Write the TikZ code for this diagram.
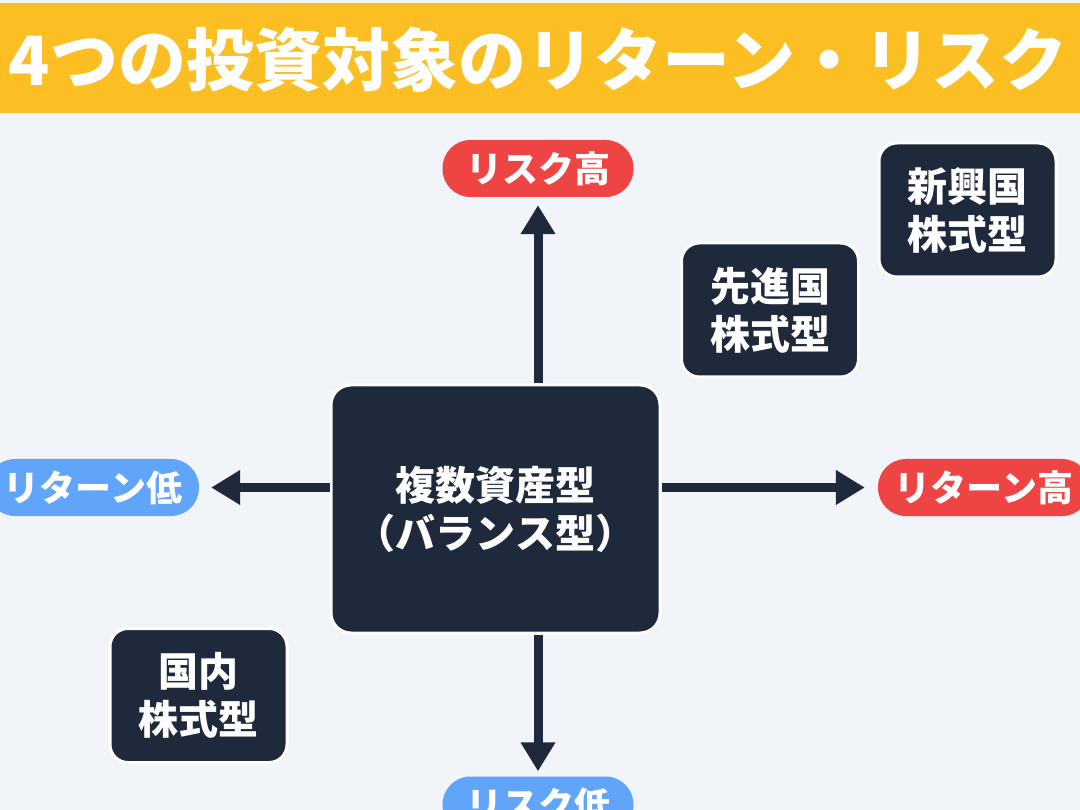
\documentclass[tikz,border=0pt]{standalone}
\usepackage{fontspec}
\setmainfont{Noto Sans CJK JP}
\usetikzlibrary{arrows.meta}
\definecolor{bgc}{HTML}{F1F4F9}
\definecolor{titlec}{HTML}{FBBF24}
\definecolor{darkc}{HTML}{1E293B}
\definecolor{redc}{HTML}{EF4444}
\definecolor{bluec}{HTML}{60A5FA}
\tikzset{
  darkbox/.style={fill=darkc, draw=white, line width=3pt, rounded corners=18pt,
    text=white, font=\fontsize{40}{48}\selectfont\bfseries, align=center,
    inner sep=0pt, minimum width=177pt, minimum height=134pt},
  pill/.style={fill=#1, rounded corners=28pt, text=white,
    font=\fontsize{36}{40}\selectfont\bfseries, inner sep=0pt,
    minimum height=57pt},
  axisarrow/.style={draw=darkc, line width=9pt,
    -{Triangle[width=33pt,length=29pt]}}
}
\begin{document}
\begin{tikzpicture}[x=1pt,y=-1pt]
\useasboundingbox (0,0) rectangle (1080,810);
\fill[bgc] (0,0) rectangle (1080,810);
% title
\fill[titlec] (0,3) rectangle (1080,113);
\node[text=white, font=\fontsize{68}{72}\selectfont\bfseries, inner sep=0pt] (title) at (538,60) {4つの投資対象のリターン・リスク};
% centre box
\node[darkbox, rounded corners=20pt, minimum width=329pt, minimum height=248pt] (mix) at (495.5,509) {複数資産型\\（バランス型）};
% labels
\node[pill=redc, minimum width=191pt] (rhigh) at (538,168.5) {リスク高};
\node[pill=bluec, minimum width=191pt] (rlow) at (538,805) {リスク低};
\node[pill=bluec, minimum width=212pt] (retlow) at (93,487.5) {リターン低};
\node[pill=redc, minimum width=212pt] (rethigh) at (984,487.5) {リターン高};
% other boxes
\node[darkbox] (dev) at (770,310) {先進国\\株式型};
\node[darkbox] (emg) at (967.5,210) {新興国\\株式型};
\node[darkbox] (dom) at (198.5,695.5) {国内\\株式型};
% arrows
\draw[axisarrow, shorten >=8pt] (mix.north -| rhigh.south) -- (rhigh.south);
\draw[axisarrow, shorten >=5pt] (mix.south -| rlow.north) -- (rlow.north);
\draw[axisarrow, shorten >=12pt] (mix.west |- retlow.east) -- (retlow.east);
\draw[axisarrow, shorten >=13pt] (mix.east |- rethigh.west) -- (rethigh.west);
\end{tikzpicture}
\end{document}
